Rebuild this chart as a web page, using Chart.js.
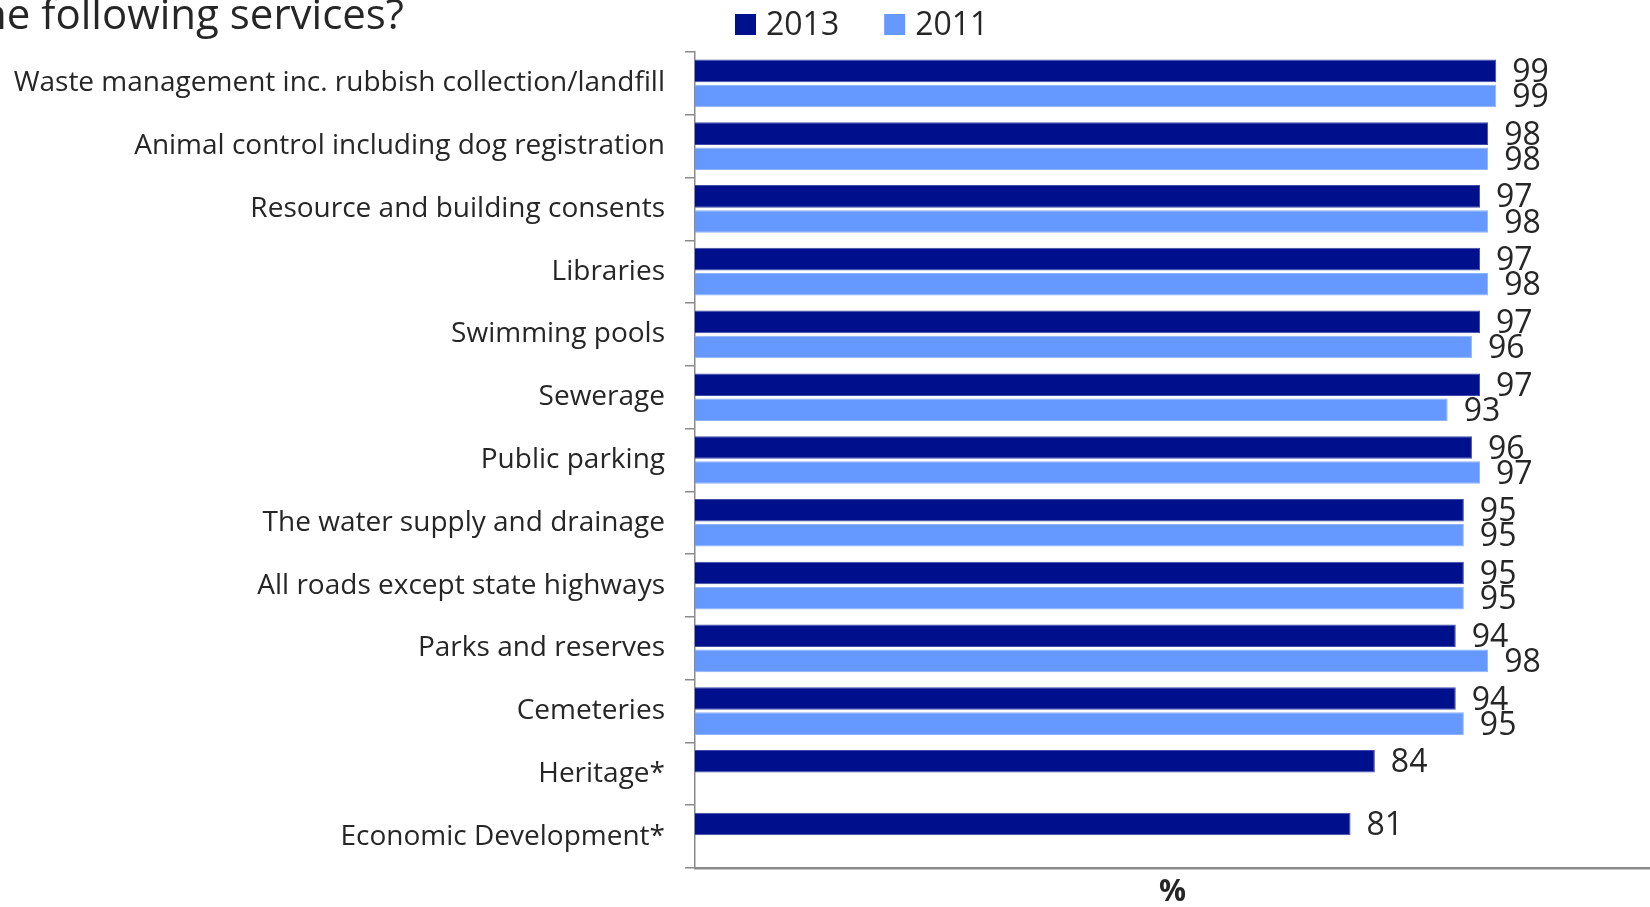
<!DOCTYPE html>
<html>
<head>
<meta charset="utf-8">
<title>Satisfaction with services</title>
<script src="https://cdn.jsdelivr.net/npm/chart.js@4.4.1/dist/chart.umd.min.js"></script>
<style>
    html, body { margin: 0; padding: 0; background: #ffffff; overflow: hidden; }
    #wrap { width: 1650px; height: 907px; }
</style>
</head>
<body>
<div id="wrap"><canvas id="servicesChart" width="1650" height="907"></canvas></div>
<script>
const categories = [
    'Waste management inc. rubbish collection/landfill',
    'Animal control including dog registration',
    'Resource and building consents',
    'Libraries',
    'Swimming pools',
    'Sewerage',
    'Public parking',
    'The water supply and drainage',
    'All roads except state highways',
    'Parks and reserves',
    'Cemeteries',
    'Heritage*',
    'Economic Development*'
];
const seriesLabels = ['2013', '2011'];
const values2013 = [99, 98, 97, 97, 97, 97, 96, 95, 95, 94, 94, 84, 81];
const values2011 = [99, 98, 98, 98, 96, 93, 97, 95, 95, 98, 95, null, null];

const FONT = "'Open Sans', 'DejaVu Sans', sans-serif";
const TEXT_COLOR = '#262626';
const AXIS_COLOR = '#8a8a8a';

// heading text and legend sit above the plot area
const headerPlugin = {
    id: 'header',
    afterDraw(chart) {
        const ctx = chart.ctx;
        ctx.save();
        ctx.fillStyle = TEXT_COLOR;
        ctx.font = `42px ${FONT}`;
        ctx.textAlign = 'right';
        ctx.textBaseline = 'alphabetic';
        ctx.fillText('the following services?', 404, 29);

        ctx.font = `32px ${FONT}`;
        ctx.textAlign = 'left';
        let x = 735;
        chart.data.datasets.forEach((ds) => {
            ctx.fillStyle = ds.backgroundColor;
            ctx.fillRect(x, 14, 21, 21);
            ctx.fillStyle = TEXT_COLOR;
            ctx.fillText(ds.label, x + 31, 35);
            x += 31 + ctx.measureText(ds.label).width + 45;
        });
        ctx.restore();
    }
};

// numbers at the end of each bar
const valueLabelPlugin = {
    id: 'valueLabels',
    afterDatasetsDraw(chart) {
        const ctx = chart.ctx;
        ctx.save();
        ctx.font = `32px ${FONT}`;
        ctx.fillStyle = TEXT_COLOR;
        ctx.textAlign = 'left';
        ctx.textBaseline = 'middle';
        chart.data.datasets.forEach((ds, i) => {
            chart.getDatasetMeta(i).data.forEach((bar, j) => {
                const v = ds.data[j];
                if (v === null || v === undefined) return;
                ctx.fillText(String(v), bar.x + 16, bar.y + 2);
            });
        });
        ctx.restore();
    }
};

new Chart(document.getElementById('servicesChart'), {
    type: 'bar',
    data: {
        labels: categories,
        datasets: [{
            label: seriesLabels[0],
            data: values2013,
            backgroundColor: '#000f8c',
            borderColor: '#3c4ca8',
            borderWidth: 1,
            categoryPercentage: 0.8,
            barPercentage: 0.9
        }, {
            label: seriesLabels[1],
            data: values2011,
            backgroundColor: '#6699ff',
            borderColor: '#8fb2ff',
            borderWidth: 1,
            categoryPercentage: 0.8,
            barPercentage: 0.9
        }]
    },
    options: {
        indexAxis: 'y',
        responsive: false,
        animation: false,
        layout: { padding: { top: 52, left: 0, right: 0, bottom: 0 } },
        plugins: {
            legend: { display: false },
            tooltip: { enabled: false }
        },
        scales: {
            x: {
                min: 0,
                max: 118,
                ticks: { display: false },
                grid: { display: false },
                border: { display: true, color: AXIS_COLOR, width: 2.5 },
                title: {
                    display: true,
                    text: '%',
                    color: TEXT_COLOR,
                    font: { family: FONT, size: 30, weight: 'bold', lineHeight: 1 },
                    padding: 0
                },
                afterFit(scale) { scale.height = 39; }
            },
            y: {
                ticks: {
                    color: TEXT_COLOR,
                    font: { family: FONT, size: 28 },
                    padding: 20,
                    autoSkip: false
                },
                grid: {
                    display: true,
                    drawOnChartArea: false,
                    drawTicks: true,
                    tickLength: 10,
                    color: AXIS_COLOR,
                    lineWidth: 1.5
                },
                border: { display: true, color: AXIS_COLOR, width: 1.5 },
                afterFit(scale) { scale.width = 695; }
            }
        }
    },
    plugins: [headerPlugin, valueLabelPlugin]
});
</script>
</body>
</html>
